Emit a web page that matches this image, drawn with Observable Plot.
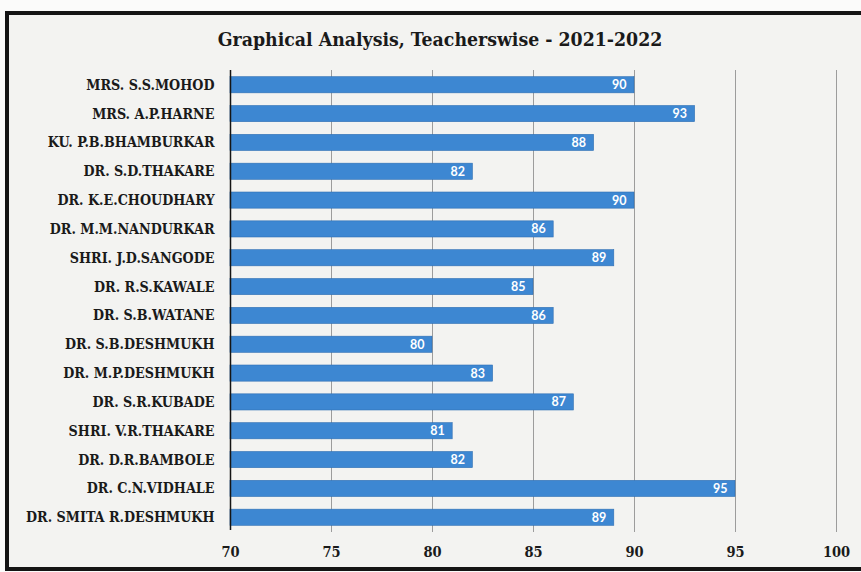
<!DOCTYPE html>
<html>
<head>
<meta charset="utf-8">
<script src="https://cdn.jsdelivr.net/npm/d3@7"></script>
<script src="https://cdn.jsdelivr.net/npm/@observablehq/plot@0.6"></script>
<style>
  html, body { margin: 0; padding: 0; background: #fbfbfa; }
  #page { position: relative; width: 861px; height: 572px; overflow: hidden; }
  #frame {
    position: absolute; left: 5px; top: 11px; width: 880px; height: 552px;
    border: 4px solid #141414; background: #f3f3f1;
  }
  #title {
    position: absolute; left: 0; top: 28px; width: 880px; text-align: center;
    font-family: "DejaVu Serif Condensed", "DejaVu Serif", serif; font-weight: bold;
    font-size: 19.3px; color: #1a1a1a;
  }
  #chart { position: absolute; left: 0; top: 58px; line-height: 0; }
</style>
</head>
<body>
<div id="page">
  <div id="frame"></div>
  <div id="title">Graphical Analysis, Teacherswise - 2021-2022</div>
  <div id="chart"></div>
</div>
<script>
// Teachers, top to bottom, with their scores for 2021-2022
const teachers = [
  "MRS. S.S.MOHOD",
  "MRS. A.P.HARNE",
  "KU. P.B.BHAMBURKAR",
  "DR. S.D.THAKARE",
  "DR. K.E.CHOUDHARY",
  "DR. M.M.NANDURKAR",
  "SHRI. J.D.SANGODE",
  "DR. R.S.KAWALE",
  "DR. S.B.WATANE",
  "DR. S.B.DESHMUKH",
  "DR. M.P.DESHMUKH",
  "DR. S.R.KUBADE",
  "SHRI. V.R.THAKARE",
  "DR. D.R.BAMBOLE",
  "DR. C.N.VIDHALE",
  "DR. SMITA R.DESHMUKH"
];
const scores = [90, 93, 88, 82, 90, 86, 89, 85, 86, 80, 83, 87, 81, 82, 95, 89];
const xTicks = [70, 75, 80, 85, 90, 95, 100];

const data = teachers.map((name, i) => ({name, score: scores[i]}));
const xMin = xTicks[0];

const chart = Plot.plot({
  width: 861,
  height: 514,
  marginLeft: 230,
  marginRight: 25,
  marginTop: 6,
  marginBottom: 34,
  style: {
    background: "transparent",
    fontFamily: "'DejaVu Serif Condensed', 'DejaVu Serif', serif",
    fontWeight: "bold",
    fontSize: "14.2px",
    color: "#1a1a1a"
  },
  x: {domain: [xTicks[0], xTicks[xTicks.length - 1]]},
  y: {domain: teachers, padding: 0.44, round: false},
  marks: [
    // light vertical gridlines
    Plot.ruleX(xTicks.slice(1), {stroke: "#9c9c9c", strokeWidth: 1, insetTop: 6, insetBottom: 6}),
    Plot.barX(data, {y: "name", x1: () => xMin, x2: "score", fill: "#3d87d2", stroke: "#2f6fb3", strokeWidth: 0.6}),
    // category axis line
    Plot.ruleX([xMin], {stroke: "#151515", strokeWidth: 1.5, insetTop: 6, insetBottom: 8}),
    Plot.text(data, {
      y: "name", x: "score", text: d => String(d.score),
      textAnchor: "end", dx: -8, fill: "white",
      fontFamily: "Lato, sans-serif", fontWeight: "bold", fontSize: 12.5
    }),
    Plot.axisX({ticks: xTicks, tickSize: 0, tickPadding: 8, label: null, fontSize: 14.5}),
    Plot.axisY({tickSize: 0, tickPadding: 16, label: null})
  ]
});
document.getElementById("chart").appendChild(chart);
</script>
</body>
</html>
